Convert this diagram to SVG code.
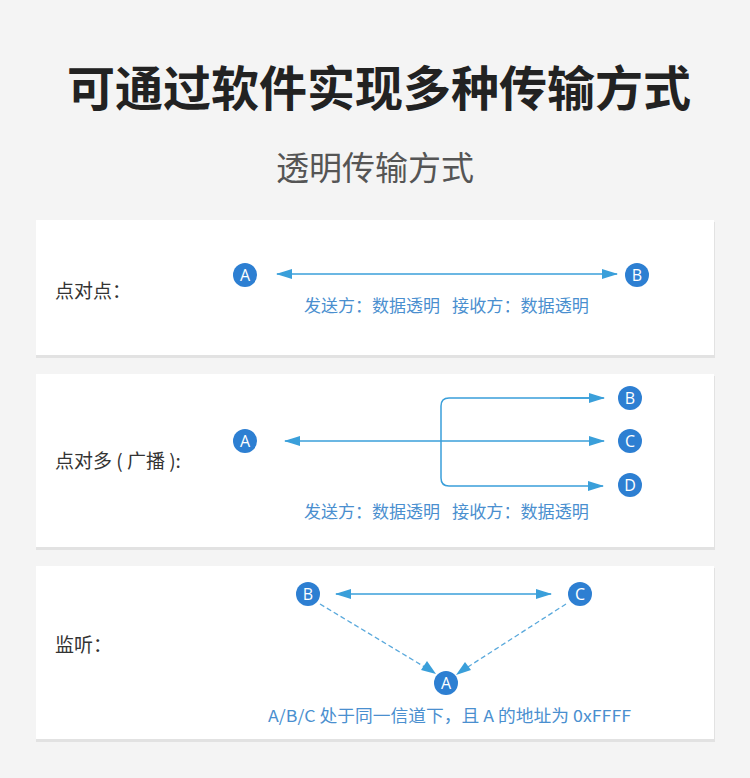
<svg xmlns="http://www.w3.org/2000/svg" width="750" height="778" viewBox="0 0 750 778">
<defs>
<style>
.bg{fill:#f4f4f4}
.panel{fill:#ffffff}
.shadow{fill:#e2e2e2}
.node circle{fill:#2d7fd2}
.node text{fill:#ffffff;font-family:"Open Sans","Liberation Sans",sans-serif;font-size:16px;text-anchor:middle}
.line{stroke:#3a9fda;stroke-width:1.5;fill:none}
.dash{stroke:#5aa9dc;stroke-width:1.3;fill:none;stroke-dasharray:5 3}
.cap{fill:#4a8fcf;font-family:"Noto Sans CJK SC","Noto Sans",sans-serif;font-size:16.5px}
.lab{fill:#333333;font-family:"Noto Sans CJK SC",sans-serif;font-size:19px}
</style>
<marker id="ah" viewBox="0 0 16 10" refX="15" refY="5" markerWidth="16" markerHeight="10" markerUnits="userSpaceOnUse" orient="auto-start-reverse">
<path d="M0,0 L16,5 L0,10 Z" fill="#3a9fda"/>
</marker>
</defs>
<rect class="bg" width="750" height="778"/>
<text x="379" y="106" text-anchor="middle" font-family="Noto Sans CJK SC,sans-serif" font-size="48" font-weight="bold" fill="#222222">可通过软件实现多种传输方式</text>
<text x="375" y="180" text-anchor="middle" font-family="Noto Sans CJK SC,sans-serif" font-size="33" fill="#555555">透明传输方式</text>

<g id="panel1">
<rect class="shadow" x="36" y="222" width="679" height="136"/>
<rect class="panel" x="36" y="220" width="678" height="135"/>
<text class="lab" x="55" y="298">点对点：</text>
</g>
<g id="panel2">
<rect class="shadow" x="36" y="376" width="679" height="174"/>
<rect class="panel" x="36" y="374" width="678" height="173"/>
<text class="lab" x="55" y="468">点对多 ( 广播 ):</text>
</g>
<g id="panel3">
<rect class="shadow" x="36" y="568" width="679" height="174"/>
<rect class="panel" x="36" y="566" width="678" height="173"/>
<text class="lab" x="55" y="652" font-size="20" fill="#222222">监听：</text>
</g>

<g id="connectors">
<line class="line" x1="277" y1="274" x2="617" y2="274" marker-start="url(#ah)" marker-end="url(#ah)"/>
<line class="line" x1="285" y1="441" x2="604" y2="441" marker-start="url(#ah)" marker-end="url(#ah)"/>
<path class="line" d="M603,398 H449 Q441,398 441,406 V478 Q441,486 449,486 H603" marker-end="url(#ah)"/>
<line class="line" x1="560" y1="398" x2="604" y2="398" marker-end="url(#ah)"/>
<line class="line" x1="336" y1="594" x2="551" y2="594" marker-start="url(#ah)" marker-end="url(#ah)"/>
<line class="dash" x1="320" y1="604" x2="433" y2="672"/>
<path d="M436,674 L421,670 L427,661 Z" fill="#3a9fda"/>
<line class="dash" x1="566" y1="604" x2="460" y2="672"/>
<path d="M456,675 L465,662 L471,670 Z" fill="#3a9fda"/>
</g>

<text class="cap" x="304" y="312" textLength="136" lengthAdjust="spacingAndGlyphs">发送方：数据透明</text>
<text class="cap" x="452" y="312" textLength="137" lengthAdjust="spacingAndGlyphs">接收方：数据透明</text>
<text class="cap" x="304" y="518" textLength="136" lengthAdjust="spacingAndGlyphs">发送方：数据透明</text>
<text class="cap" x="452" y="518" textLength="137" lengthAdjust="spacingAndGlyphs">接收方：数据透明</text>
<text class="cap" x="268" y="722" textLength="363" lengthAdjust="spacingAndGlyphs">A/B/C 处于同一信道下，且 A 的地址为 0xFFFF</text>

<g id="p1A" class="node"><circle cx="245" cy="275" r="12"/><text x="245" y="281">A</text></g>
<g id="p1B" class="node"><circle cx="637" cy="275" r="12"/><text x="637" y="281">B</text></g>
<g id="p2A" class="node"><circle cx="245" cy="441" r="12"/><text x="245" y="447">A</text></g>
<g id="p2B" class="node"><circle cx="630" cy="398" r="12"/><text x="630" y="404">B</text></g>
<g id="p2C" class="node"><circle cx="630" cy="441" r="12"/><text x="630" y="447">C</text></g>
<g id="p2D" class="node"><circle cx="630" cy="485" r="12"/><text x="630" y="491">D</text></g>
<g id="p3B" class="node"><circle cx="308" cy="594" r="12"/><text x="308" y="600">B</text></g>
<g id="p3C" class="node"><circle cx="580" cy="594" r="12"/><text x="580" y="600">C</text></g>
<g id="p3A" class="node"><circle cx="446" cy="683" r="12"/><text x="446" y="689">A</text></g>
</svg>
